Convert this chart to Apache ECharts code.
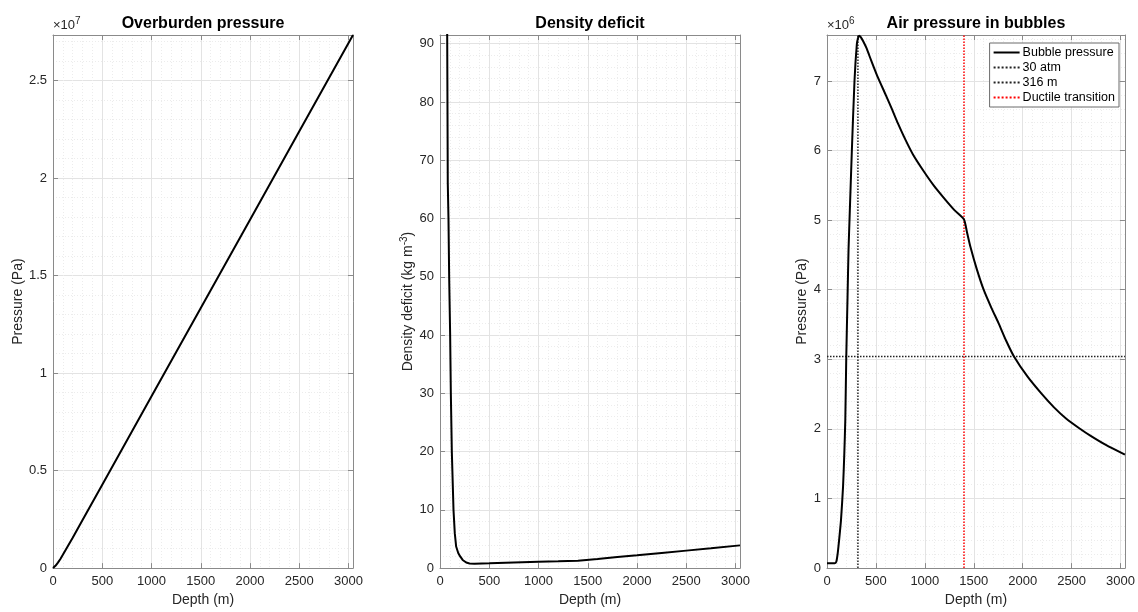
<!DOCTYPE html>
<html>
<head>
<meta charset="utf-8">
<script src="https://cdn.jsdelivr.net/npm/echarts@6/dist/echarts.min.js"></script>
<style>
  html, body { margin: 0; padding: 0; background: #fff; }
  #main { width: 1138px; height: 612px; }
</style>
</head>
<body>
<div id="main"></div>
<script>
// overburden pressure (Pa) vs depth (m)
const overDepth = [0, 25, 50, 75, 100, 150, 200, 300, 500, 1000, 1500, 2000, 2500, 3045]
const overPa = [0, 0.12e6, 0.28e6, 0.47e6, 0.68e6, 1.12e6, 1.56e6, 2.47e6, 4.28e6, 8.81e6, 1.334e7, 1.787e7, 2.24e7, 2.734e7]

// density deficit (kg m-3) vs depth (m)
const defDepth = [66, 73, 79, 86, 93, 103, 110, 120, 137, 150, 164, 185, 205, 230, 266, 300, 350, 500, 750, 1000, 1200, 1400, 1600, 1800, 2000, 2250, 2500, 2750, 3045]
const defVal = [120, 91.5, 66, 60, 50, 40, 30, 20, 10, 6, 3.7, 2.6, 2.0, 1.4, 0.96, 0.8, 0.75, 0.82, 0.95, 1.08, 1.17, 1.27, 1.55, 1.9, 2.2, 2.6, 3.0, 3.4, 3.9]

// bubble pressure (x1e6 Pa) vs depth (m)
const bubDepth = [0, 80, 95, 110, 125, 143, 164, 177, 187, 197, 210, 220, 230, 254, 281, 305, 318, 329, 345, 370, 404, 450, 520, 600, 665, 725, 800, 880, 985, 1090, 1200, 1305, 1400, 1430, 1467, 1530, 1601, 1680, 1753, 1830, 1911, 2050, 2190, 2320, 2443, 2578, 2695, 2850, 3045]
const bubMPa = [0.07, 0.07, 0.09, 0.22, 0.42, 0.69, 1.17, 1.65, 2.13, 3.04, 3.9, 4.57, 5.0, 6.0, 7.0, 7.53, 7.62, 7.65, 7.63, 7.57, 7.47, 7.3, 7.05, 6.8, 6.59, 6.39, 6.16, 5.94, 5.71, 5.5, 5.31, 5.14, 5.01, 4.83, 4.61, 4.3, 4.0, 3.74, 3.52, 3.27, 3.04, 2.75, 2.51, 2.31, 2.15, 2.01, 1.9, 1.77, 1.63]

// reference lines
const atm30 = 30 * 101325
const bubbleCloseDepth = 316
const ductileDepth = 1400

const depthMax = 3045
const yMaxes = [2.734e7, 91.5, 7.66e6]
const yMajor = [0.5e7, 10, 1e6]
const yMinor = [0.1e7, 2, 0.2e6]
const yFmt = [v => String(+(v / 1e7).toFixed(2)), v => String(v), v => String(+(v / 1e6).toFixed(2))]
const titles = ['Overburden pressure', 'Density deficit', 'Air pressure in bubbles']
const yNames = ['{n|Pressure (Pa)}', '{n|Density deficit (kg m}{s|-3}{n|)}', '{n|Pressure (Pa)}']
const yNameGaps = [27, 24, 18]
const lefts = [53, 440, 827]

const font = "'Liberation Sans', Arial, sans-serif"
const textCol = '#262626'
const boxCol = '#8a8a8a'

const zip = (xs, ys) => xs.map((x, i) => [x, ys[i]])

const xAxes = []
const yAxes = []
const grids = []
lefts.forEach((left, g) => {
  grids.push({ left: left, width: 300, top: 35, height: 534 })
  // minor grid
  xAxes.push({
    type: 'value', gridIndex: g, min: 0, max: depthMax, interval: 100, position: 'bottom',
    axisLine: { show: false }, axisTick: { show: false }, axisLabel: { show: false },
    splitLine: { show: true, lineStyle: { color: '#ececec', type: [1, 2], width: 1 } }
  })
  // main bottom axis
  xAxes.push({
    type: 'value', gridIndex: g, min: 0, max: depthMax, interval: 500, position: 'bottom',
    name: 'Depth (m)', nameLocation: 'middle', nameGap: 22,
    nameTextStyle: { fontFamily: font, fontSize: 14, color: textCol },
    axisLine: { show: true, onZero: false, lineStyle: { color: boxCol, width: 1 } },
    axisTick: { show: true, inside: true, length: 5, lineStyle: { color: boxCol } },
    axisLabel: { show: true, margin: 7, fontFamily: font, fontSize: 13, color: textCol, showMaxLabel: false, formatter: v => String(v) },
    splitLine: { show: true, lineStyle: { color: '#e3e3e3', width: 1 } }
  })
  // top axis with title
  xAxes.push({
    type: 'value', gridIndex: g, min: 0, max: depthMax, interval: 500, position: 'top',
    name: titles[g], nameLocation: 'middle', nameGap: 3,
    nameTextStyle: { fontFamily: font, fontSize: 16, fontWeight: 'bold', color: '#000', verticalAlign: 'bottom' },
    axisLine: { show: true, onZero: false, lineStyle: { color: boxCol, width: 1 } },
    axisTick: { show: true, inside: true, length: 5, lineStyle: { color: boxCol } },
    axisLabel: { show: false }, splitLine: { show: false }
  })
  yAxes.push({
    type: 'value', gridIndex: g, min: 0, max: yMaxes[g], interval: yMinor[g], position: 'left',
    axisLine: { show: false }, axisTick: { show: false }, axisLabel: { show: false },
    splitLine: { show: true, lineStyle: { color: '#ececec', type: [1, 2], width: 1 } }
  })
  yAxes.push({
    type: 'value', gridIndex: g, min: 0, max: yMaxes[g], interval: yMajor[g], position: 'left',
    name: yNames[g], nameLocation: 'middle', nameGap: yNameGaps[g],
    nameTextStyle: {
      fontFamily: font, fontSize: 14, color: textCol,
      rich: {
        n: { fontFamily: font, fontSize: 14, color: textCol, verticalAlign: 'bottom' },
        s: { fontFamily: font, fontSize: 10, color: textCol, verticalAlign: 'bottom', padding: [0, 0, 6, 0] }
      }
    },
    axisLine: { show: true, onZero: false, lineStyle: { color: boxCol, width: 1 } },
    axisTick: { show: true, inside: true, length: 5, lineStyle: { color: boxCol } },
    axisLabel: { show: true, margin: 6, fontFamily: font, fontSize: 13, color: textCol, showMaxLabel: false, formatter: yFmt[g] },
    splitLine: { show: true, lineStyle: { color: '#e3e3e3', width: 1 } }
  })
  yAxes.push({
    type: 'value', gridIndex: g, min: 0, max: yMaxes[g], interval: yMajor[g], position: 'right',
    axisLine: { show: true, onZero: false, lineStyle: { color: boxCol, width: 1 } },
    axisTick: { show: true, inside: true, length: 5, lineStyle: { color: boxCol } },
    axisLabel: { show: false }, splitLine: { show: false }
  })
})

const lineSeries = (name, g, data, color, type, width, smooth) => ({
  name: name, type: 'line', xAxisIndex: g * 3 + 1, yAxisIndex: g * 3 + 1,
  data: data, symbol: 'circle', showSymbol: false, clip: true, silent: true,
  smooth: smooth || false,
  lineStyle: { color: color, type: type, width: width },
  itemStyle: { color: 'rgba(0,0,0,0)', borderWidth: 0 }
})

const expRich = {
  n: { fontFamily: font, fontSize: 13, fill: textCol, verticalAlign: 'bottom' },
  s: { fontFamily: font, fontSize: 10, fill: textCol, verticalAlign: 'bottom', padding: [0, 0, 6, 0] }
}

const myChart = echarts.init(document.getElementById('main'))
myChart.setOption({
  animation: false,
  backgroundColor: '#fff',
  textStyle: { fontFamily: font },
  grid: grids,
  xAxis: xAxes,
  yAxis: yAxes,
  legend: {
    data: ['Bubble pressure', '30 atm', '316 m', 'Ductile transition'],
    orient: 'vertical', right: 19, top: 43, align: 'left',
    itemWidth: 26, itemHeight: 10, itemGap: 2,
    padding: [3, 4, 3, 3],
    backgroundColor: '#fff', borderColor: '#6a6a6a', borderWidth: 1,
    textStyle: { fontFamily: font, fontSize: 12.5, color: '#000', padding: [0, 0, 0, -2] }
  },
  graphic: [
    { type: 'text', left: 53, top: 16, style: { text: '{n|×10}{s|7}', rich: expRich } },
    { type: 'text', left: 827, top: 16, style: { text: '{n|×10}{s|6}', rich: expRich } }
  ],
  series: [
    lineSeries('Overburden', 0, zip(overDepth, overPa), '#000', 'solid', 2),
    lineSeries('Density deficit', 1, zip(defDepth, defVal), '#000', 'solid', 2),
    lineSeries('30 atm', 2, [[0, atm30], [depthMax, atm30]], '#222', 'dotted', 1.5),
    lineSeries('316 m', 2, [[bubbleCloseDepth, 0], [bubbleCloseDepth, yMaxes[2]]], '#222', 'dotted', 1.5),
    lineSeries('Ductile transition', 2, [[ductileDepth, 0], [ductileDepth, yMaxes[2]]], '#ff0000', 'dotted', 1.5),
    lineSeries('Bubble pressure', 2, zip(bubDepth, bubMPa.map(v => v * 1e6)), '#000', 'solid', 2, 0.2)
  ]
})
</script>
</body>
</html>
